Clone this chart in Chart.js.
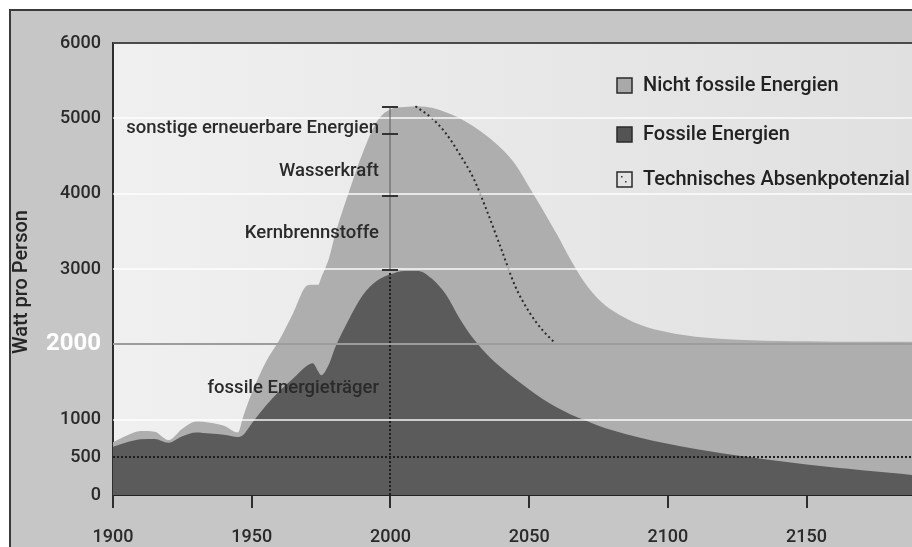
<!DOCTYPE html>
<html>
<head>
<meta charset="utf-8">
<script src="https://cdn.jsdelivr.net/npm/chart.js@4/dist/chart.umd.min.js"></script>
<style>
  html, body { margin: 0; padding: 0; background: #fff; }
  #wrap { width: 912px; height: 547px; }
</style>
</head>
<body>
<div id="wrap"><canvas id="energyChart" width="912" height="547"></canvas></div>
<script>
// Watt pro Person, 1900 - 2190
const years = [1900, 1905, 1910, 1915, 1920, 1925, 1930, 1935, 1940, 1945, 1947, 1950, 1955, 1960, 1965, 1970, 1972, 1974, 1975, 1978, 1980, 1985, 1990, 1995, 2000, 2005, 2010, 2015, 2020, 2025, 2030, 2035, 2040, 2045, 2050, 2055, 2060, 2065, 2070, 2075, 2080, 2090, 2100, 2110, 2120, 2130, 2140, 2150, 2160, 2170, 2180, 2190];
const totalWatts = [700, 790, 850, 840, 730, 880, 975, 960, 920, 830, 1050, 1350, 1760, 2060, 2420, 2780, 2790, 2790, 2880, 3160, 3450, 4020, 4540, 4950, 5120, 5150, 5160, 5140, 5080, 5000, 4890, 4760, 4600, 4390, 4090, 3780, 3460, 3120, 2820, 2600, 2450, 2260, 2160, 2100, 2070, 2055, 2045, 2040, 2035, 2035, 2035, 2035];
const fossilWatts = [640, 700, 740, 745, 695, 780, 830, 815, 800, 770, 800, 950, 1180, 1380, 1550, 1720, 1750, 1640, 1590, 1750, 1950, 2330, 2650, 2840, 2930, 2975, 2975, 2870, 2660, 2340, 2070, 1860, 1690, 1540, 1400, 1270, 1160, 1070, 995, 920, 860, 760, 680, 610, 550, 500, 450, 405, 365, 330, 295, 260];

const potentialYears = [2009, 2015, 2020, 2025, 2030, 2035, 2040, 2045, 2050, 2055, 2059];
const potentialWatts = [5160, 5000, 4800, 4520, 4200, 3750, 3260, 2770, 2430, 2180, 2030];

const xTicks = [1900, 1950, 2000, 2050, 2100, 2150];
const yTicks = [0, 500, 1000, 2000, 3000, 4000, 5000, 6000];

// Aufteilung im Jahr 2000
const splitYear = 2000;
const splitMarks = [5150, 4790, 3970, 2990];
const splitLabels = ['sonstige erneuerbare Energien', 'Wasserkraft', 'Kernbrennstoffe', 'fossile Energieträger'];
const splitLabelWatts = [4870, 4300, 3470, 1420];

const FONT = 'Roboto, "DejaVu Sans", sans-serif';

const toPoints = (xs, ys) => xs.map((x, i) => ({ x: x, y: ys[i] }));

const paper = {
    id: 'paper',
    beforeDraw(chart) {
        const { ctx, width, height, chartArea: a } = chart;
        ctx.save();
        ctx.fillStyle = '#ffffff';
        ctx.fillRect(0, 0, width, height);
        ctx.fillStyle = '#c6c6c6';
        ctx.fillRect(10, 10, width - 10, height - 10);
        ctx.strokeStyle = '#3a3a3a';
        ctx.lineWidth = 2;
        ctx.beginPath();
        ctx.moveTo(10, height);
        ctx.lineTo(10, 10);
        ctx.lineTo(width, 10);
        ctx.stroke();
        const g = ctx.createLinearGradient(a.left, 0, a.right, 0);
        g.addColorStop(0, '#f0f0f0');
        g.addColorStop(1, '#e0e0e0');
        ctx.fillStyle = g;
        ctx.fillRect(a.left, a.top, a.right - a.left, a.bottom - a.top);

        // axis title
        ctx.translate(22, 282);
        ctx.rotate(-Math.PI / 2);
        ctx.fillStyle = '#262626';
        ctx.font = '500 20px ' + FONT;
        ctx.textAlign = 'center';
        ctx.textBaseline = 'middle';
        ctx.fillText('Watt pro Person', 0, 0);
        ctx.restore();
    }
};

const overlay = {
    id: 'overlay',
    afterDatasetsDraw(chart) {
        const { ctx, chartArea: a } = chart;
        const xs = chart.scales.x, ys = chart.scales.y;
        ctx.save();

        // horizontal lines
        yTicks.forEach(v => {
            if (v === 0) return;
            const py = Math.round(ys.getPixelForValue(v));
            ctx.setLineDash([]);
            if (v === 500) {
                ctx.strokeStyle = '#1e1e1e';
                ctx.lineWidth = 2;
                ctx.setLineDash([2, 2]);
            } else if (v === 2000) {
                ctx.strokeStyle = '#9c9c9c';
                ctx.lineWidth = 2;
            } else if (v === 6000) {
                ctx.strokeStyle = '#4a4a4a';
                ctx.lineWidth = 2;
            } else {
                ctx.strokeStyle = 'rgba(255,255,255,0.7)';
                ctx.lineWidth = 2;
            }
            ctx.beginPath();
            ctx.moveTo(a.left, py);
            ctx.lineTo(a.right, py);
            ctx.stroke();
        });

        // split bracket at 2000
        const bx = Math.round(xs.getPixelForValue(splitYear));
        const fossilTop = ys.getPixelForValue(splitMarks[splitMarks.length - 1]);
        ctx.strokeStyle = '#1e1e1e';
        ctx.lineWidth = 2;
        ctx.setLineDash([2, 2]);
        ctx.beginPath();
        ctx.moveTo(bx, a.bottom);
        ctx.lineTo(bx, fossilTop);
        ctx.stroke();
        ctx.setLineDash([]);
        ctx.strokeStyle = '#5a5a5a';
        ctx.lineWidth = 1;
        ctx.beginPath();
        ctx.moveTo(bx, fossilTop);
        ctx.lineTo(bx, ys.getPixelForValue(splitMarks[0]));
        ctx.stroke();
        ctx.strokeStyle = '#333';
        ctx.lineWidth = 2;
        splitMarks.forEach(v => {
            const py = Math.round(ys.getPixelForValue(v));
            ctx.beginPath();
            ctx.moveTo(bx - 8, py);
            ctx.lineTo(bx + 8, py);
            ctx.stroke();
        });

        ctx.fillStyle = '#2a2a2a';
        ctx.font = '500 18.5px ' + FONT;
        ctx.textAlign = 'right';
        ctx.textBaseline = 'middle';
        splitLabels.forEach((t, i) => {
            ctx.fillText(t, bx - 11, ys.getPixelForValue(splitLabelWatts[i]));
        });

        // legend
        const ds = chart.data.datasets;
        const rowsY = [86, 135, 180];
        ctx.textAlign = 'left';
        ctx.font = '500 20px ' + FONT;
        ds.forEach((d, i) => {
            const cy = rowsY[i];
            ctx.fillStyle = d.legendFill;
            ctx.fillRect(617, cy - 8, 15, 15);
            ctx.strokeStyle = '#2a2a2a';
            ctx.lineWidth = 1.5;
            ctx.strokeRect(617, cy - 8, 15, 15);
            if (!d.fill) {
                ctx.fillStyle = '#333';
                ctx.fillRect(621, cy - 4, 1.5, 1.5);
                ctx.fillRect(625, cy + 1, 1.5, 1.5);
            }
            ctx.fillStyle = '#222';
            ctx.fillText(d.label, 643, cy);
        });
        ctx.restore();
    }
};

new Chart(document.getElementById('energyChart'), {
    type: 'line',
    data: {
        datasets: [
            {
                label: 'Nicht fossile Energien',
                data: toPoints(years, totalWatts),
                backgroundColor: '#aeaeae',
                legendFill: '#a9a9a9',
                borderWidth: 0,
                fill: 'origin',
                pointRadius: 0,
                cubicInterpolationMode: 'monotone',
                order: 2
            },
            {
                label: 'Fossile Energien',
                data: toPoints(years, fossilWatts),
                backgroundColor: '#5b5b5b',
                legendFill: '#545454',
                borderWidth: 0,
                fill: 'origin',
                pointRadius: 0,
                cubicInterpolationMode: 'monotone',
                order: 1
            },
            {
                label: 'Technisches Absenkpotenzial',
                data: toPoints(potentialYears, potentialWatts),
                borderColor: '#2a2a2a',
                legendFill: '#e4e4e4',
                borderWidth: 2,
                borderDash: [2, 3],
                fill: false,
                pointRadius: 0,
                cubicInterpolationMode: 'monotone',
                order: 0
            }
        ]
    },
    options: {
        responsive: false,
        animation: false,
        devicePixelRatio: 1,
        layout: { padding: { top: 43, right: 0, bottom: 0, left: 0 } },
        plugins: {
            legend: { display: false },
            tooltip: { enabled: false }
        },
        scales: {
            x: {
                type: 'linear',
                min: 1900,
                max: 2188,
                z: 1,
                afterBuildTicks: s => { s.ticks = xTicks.map(v => ({ value: v })); },
                afterFit: s => { s.height = 52; },
                grid: { drawOnChartArea: false, color: '#2e2e2e', lineWidth: 2, tickLength: 13 },
                border: { color: '#222', width: 2 },
                ticks: {
                    padding: 19,
                    color: '#2a2a2a',
                    font: { family: FONT, size: 18, weight: '500' },
                    maxRotation: 0,
                    callback: v => String(v)
                }
            },
            y: {
                min: 0,
                max: 6000,
                z: 1,
                afterBuildTicks: s => { s.ticks = yTicks.map(v => ({ value: v })); },
                afterFit: s => { s.width = 113; },
                grid: { display: false, drawTicks: false },
                border: { color: '#2e2e2e', width: 2 },
                ticks: {
                    padding: 12,
                    callback: v => String(v),
                    color: c => (c.tick && c.tick.value === 2000 ? '#ffffff' : '#2a2a2a'),
                    font: c => (c.tick && c.tick.value === 2000
                        ? { family: FONT, size: 24, weight: 'bold' }
                        : { family: FONT, size: 18, weight: '500' })
                }
            }
        }
    },
    plugins: [paper, overlay]
});
</script>
</body>
</html>
